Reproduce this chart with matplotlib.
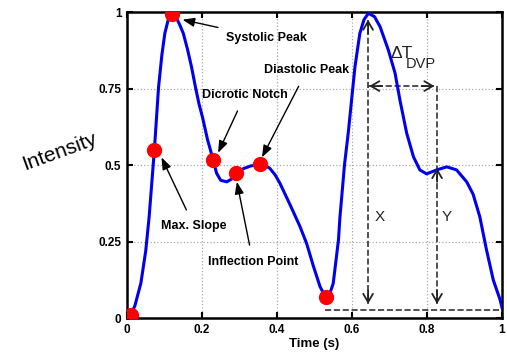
import matplotlib.pyplot as plt

plt.rcParams['font.family'] = ['Liberation Sans', 'DejaVu Sans']

# PPG waveform
t = [0.01, 0.021, 0.037, 0.05, 0.059, 0.066, 0.073, 0.084, 0.093, 0.101, 0.11, 0.119,
     0.13, 0.14, 0.15, 0.161, 0.172, 0.183, 0.192, 0.201, 0.215, 0.23, 0.239, 0.25,
     0.266, 0.28, 0.292, 0.31, 0.33, 0.355, 0.37, 0.381, 0.395, 0.408, 0.435, 0.461,
     0.479, 0.497, 0.515, 0.531, 0.541, 0.55, 0.564, 0.568, 0.572, 0.58, 0.59, 0.608,
     0.621, 0.632, 0.644, 0.66, 0.675, 0.697, 0.715, 0.728, 0.746, 0.764, 0.781, 0.799,
     0.826, 0.853, 0.879, 0.906, 0.923, 0.941, 0.959, 0.977, 0.995, 1.0]
intensity = [0.01, 0.04, 0.114, 0.22, 0.33, 0.44, 0.549, 0.752, 0.86, 0.931, 0.975, 0.995,
             0.985, 0.96, 0.931, 0.88, 0.821, 0.752, 0.7, 0.658, 0.582, 0.516, 0.473, 0.45,
             0.445, 0.455, 0.473, 0.488, 0.497, 0.502, 0.498, 0.489, 0.468, 0.44, 0.37, 0.3,
             0.244, 0.17, 0.102, 0.065, 0.08, 0.113, 0.255, 0.331, 0.386, 0.5, 0.604, 0.821,
             0.93, 0.975, 0.996, 0.985, 0.952, 0.876, 0.8, 0.712, 0.604, 0.527, 0.484, 0.471,
             0.484, 0.494, 0.484, 0.445, 0.405, 0.331, 0.222, 0.124, 0.06, 0.035]

# feature points (red dots)
pt_t = [0.01, 0.073, 0.119, 0.23, 0.292, 0.355, 0.531]
pt_y = [0.01, 0.549, 0.993, 0.516, 0.473, 0.502, 0.07]

# labels: text, text position, arrow tip
labels = ['Systolic Peak', 'Diastolic Peak', 'Dicrotic Notch', 'Max. Slope', 'Inflection Point']
label_xy = [(0.371, 0.915), (0.48, 0.81), (0.315, 0.73), (0.179, 0.30), (0.336, 0.183)]
tip_xy = [(0.148, 0.975), (0.36, 0.525), (0.243, 0.54), (0.092, 0.525), (0.293, 0.445)]

fig = plt.figure(figsize=(5.07, 3.56), dpi=100)
ax = fig.add_axes([0.2505, 0.1067, 0.7395, 0.8595])

ax.plot(t, intensity, color='#0000ee', lw=2.2, zorder=3, solid_joinstyle='round')
ax.plot(pt_t, pt_y, 'o', color='#ff0000', ms=10, zorder=4)

for txt, xy, tip in zip(labels, label_xy, tip_xy):
    ax.annotate(txt, xy=tip, xytext=xy, ha='center', va='center',
                fontsize=9, fontweight='bold',
                arrowprops=dict(arrowstyle='-|>,head_length=0.8,head_width=0.3',
                                color='black', lw=1.0, shrinkA=6, shrinkB=0))

# dashed measurement lines
dash = dict(color='#333333', ls='--', lw=1.2, zorder=2)
ax.plot([0.643, 0.643], [0.975, 0.046], **dash)
ax.plot([0.827, 0.827], [0.758, 0.046], **dash)
ax.plot([0.643, 0.82], [0.758, 0.758], **dash)
ax.plot([0.528, 1.0], [0.026, 0.026], **dash)

head = dict(arrowstyle='->,head_length=0.6,head_width=0.35', color='#222222', lw=1.3,
            shrinkA=0, shrinkB=0)
for end, start in [((0.643, 0.975), (0.643, 0.93)), ((0.643, 0.046), (0.643, 0.09)),
                   ((0.827, 0.49), (0.827, 0.445)), ((0.827, 0.046), (0.827, 0.09)),
                   ((0.646, 0.758), (0.68, 0.758)), ((0.82, 0.758), (0.786, 0.758))]:
    ax.annotate('', xy=end, xytext=start, arrowprops=head)

ax.text(0.702, 0.866, 'ΔT', fontsize=12.5, ha='left', va='center', color='#222222')
ax.text(0.744, 0.83, 'DVP', fontsize=10.5, ha='left', va='center', color='#222222')
ax.text(0.675, 0.33, 'X', fontsize=11, ha='center', va='center', color='#222222')
ax.text(0.853, 0.33, 'Y', fontsize=11, ha='center', va='center', color='#222222')

ax.set_xlim(0, 1)
ax.set_ylim(0, 1)
ax.set_xticks([0, 0.2, 0.4, 0.6, 0.8, 1])
ax.set_xticklabels(['0', '0.2', '0.4', '0.6', '0.8', '1'])
ax.set_yticks([0, 0.25, 0.5, 0.75, 1])
ax.set_yticklabels(['0', '0.25', '0.5', '0.75', '1'])
ax.tick_params(direction='in', top=True, right=True, length=4, width=1.5,
               labelsize=8.5, pad=4)
for lab in ax.get_xticklabels() + ax.get_yticklabels():
    lab.set_fontweight('bold')
for s in ax.spines.values():
    s.set_linewidth(1.8)
ax.grid(True, ls=':', color='#aaaaaa', lw=0.9)

ax.set_xlabel('Time (s)', fontsize=9.5, fontweight='bold', labelpad=2)
fig.text(0.118, 0.575, 'Intensity', fontsize=15, rotation=20, ha='center', va='center')

fig.savefig('out.png', dpi=100)
